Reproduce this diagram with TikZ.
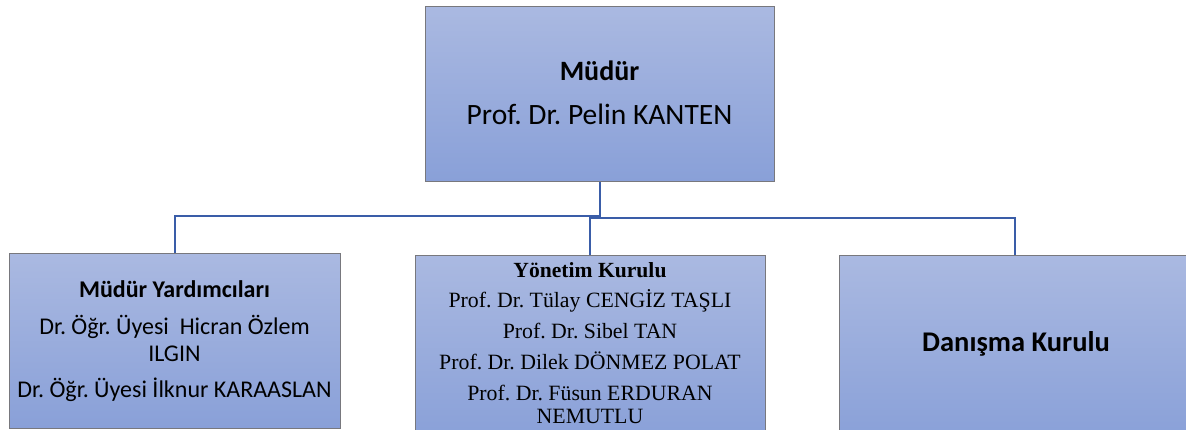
\documentclass[tikz,border=0pt]{standalone}
\usepackage{fontspec}
\setmainfont{Carlito}
\newfontfamily\tnr{Liberation Serif}
\frenchspacing
\definecolor{conncol}{RGB}{58,93,168}
\definecolor{boxtop}{RGB}{170,185,225}
\definecolor{boxbot}{RGB}{137,160,216}
\definecolor{boxline}{RGB}{120,120,125}
\tikzset{
  orgbox/.style={draw=boxline, line width=0.9pt, top color=boxtop, bottom color=boxbot,
    rectangle, inner sep=0pt, anchor=north west},
  conn/.style={draw=conncol, line width=2pt},
  txt/.style={anchor=base, inner sep=0pt, text=black},
}
\begin{document}
\begin{tikzpicture}[x=1pt,y=-1pt]
\useasboundingbox (0,0) rectangle (1186,429);
\clip (0,0) rectangle (1186,429);
% boxes
\node[orgbox, minimum width=349pt, minimum height=175pt] (top) at (425,6) {};
\node[orgbox, minimum width=331pt, minimum height=175pt] (L) at (9,253) {};
\node[orgbox, minimum width=350pt, minimum height=185pt] (M) at (415,255) {};
\node[orgbox, minimum width=351pt, minimum height=185pt] (R) at (839,255) {};
% connectors
\coordinate (h1) at (0,216);
\coordinate (h2) at (0,218);
\draw[conn] (top.south) -- (top.south |- h2);
\draw[conn] (L.north) -- (L.north |- h1) -- (top.south |- h1);
\draw[conn] (M.north) -- (M.north |- h2) -- (R.north |- h2) -- (R.north);
% texts top
\node[txt, font=\fontsize{28}{30}\selectfont\bfseries] (t1) at (599.5,80) {Müdür};
\node[txt, font=\fontsize{29.5}{30}\selectfont] (t2) at (599.5,124) {Prof. Dr. Pelin KANTEN};
% texts left
\node[txt, font=\fontsize{24}{26}\selectfont\bfseries] (l1) at (174.5,297) {Müdür Yardımcıları};
\node[txt, font=\fontsize{24}{26}\selectfont] (l2) at (174.5,334) {Dr. Öğr. Üyesi\ \ Hicran Özlem};
\node[txt, font=\fontsize{24}{26}\selectfont] (l3) at (174.5,361) {ILGIN};
\node[txt, font=\fontsize{24}{26}\selectfont] (l4) at (174.5,397) {Dr. Öğr. Üyesi İlknur KARAASLAN};
% texts middle
\node[txt, font=\tnr\fontsize{21.6}{24}\selectfont\bfseries] (m1) at (590,277) {Yönetim Kurulu};
\node[txt, font=\tnr\fontsize{21.8}{24}\selectfont] (m2) at (590,307) {Prof. Dr. Tülay CENGİZ TAŞLI};
\node[txt, font=\tnr\fontsize{21.8}{24}\selectfont] (m3) at (590,338) {Prof. Dr. Sibel TAN};
\node[txt, font=\tnr\fontsize{21.8}{24}\selectfont] (m4) at (590,369) {Prof. Dr. Dilek DÖNMEZ POLAT};
\node[txt, font=\tnr\fontsize{21.8}{24}\selectfont] (m5) at (590,400) {Prof. Dr. Füsun ERDURAN};
\node[txt, font=\tnr\fontsize{21.8}{24}\selectfont] (m6) at (590,423) {NEMUTLU};
% text right
\node[txt, font=\fontsize{28.5}{30}\selectfont\bfseries] (r1) at (1016,351) {Danışma Kurulu};
\end{tikzpicture}
\end{document}
